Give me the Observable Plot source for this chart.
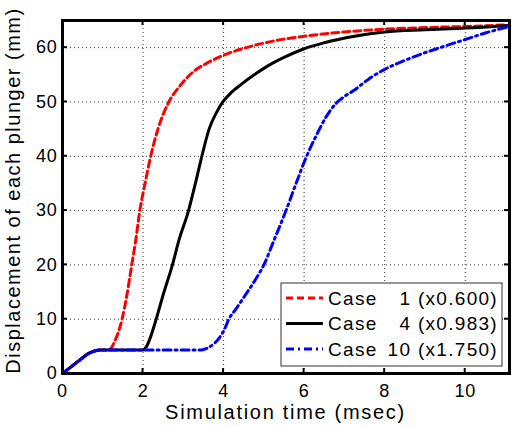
<!DOCTYPE html>
<html><head><meta charset="utf-8">
<script src="https://cdn.jsdelivr.net/npm/d3@7"></script>
<script src="https://cdn.jsdelivr.net/npm/@observablehq/plot@0.6"></script>
<style>
html,body{margin:0;padding:0;background:#fff;}
#chart svg{display:block;font-family:"Liberation Sans",Arial,Helvetica,sans-serif;}
</style></head><body><div id="chart"></div>
<script>
// ---- data ----
const xTicks = [0, 2, 4, 6, 8, 10];
const yTicks = [0, 10, 20, 30, 40, 50, 60];
const xLabel = "Simulation time (msec)";
const yLabel = "Displacement of each plunger (mm)";
const caseNumbers = ["1", "4", "10"];
const scaleFactors = ["x0.600", "x0.983", "x1.750"];

const case1Time = [0, 0.2, 0.45, 0.65, 0.8, 0.95, 1.15, 1.22, 1.3, 1.4, 1.48, 1.6, 1.72, 1.82, 1.92, 2.05, 2.19, 2.37, 2.64, 2.9, 3.27, 3.6, 4.0, 4.76, 5.3, 6.0, 7.0, 8.0, 9.0, 10.0, 11.05];
const case1Disp = [0, 1.15, 2.6, 3.7, 4.15, 4.35, 4.35, 4.8, 6.0, 7.9, 10, 14.5, 20, 24.6, 30, 35, 40, 45, 50, 52.8, 55.7, 57.2, 58.6, 60.4, 61.3, 62.1, 62.9, 63.4, 63.7, 63.9, 64.2];

const case4Time = [0, 0.2, 0.45, 0.65, 0.8, 0.95, 2.0, 2.08, 2.16, 2.31, 2.5, 2.73, 2.89, 3.13, 3.3, 3.46, 3.64, 3.82, 3.98, 4.2, 4.43, 4.76, 5.09, 5.5, 6.0, 6.5, 7.25, 8.0, 9.0, 10.0, 11.05];
const case4Disp = [0, 1.15, 2.6, 3.7, 4.15, 4.35, 4.35, 4.9, 6.2, 9.6, 14.5, 20, 24.5, 30, 35, 40, 45, 48, 50, 51.8, 53.2, 55.0, 56.6, 58.2, 59.8, 60.9, 62.1, 62.9, 63.3, 63.6, 64.1];

const case10Time = [0, 0.2, 0.45, 0.65, 0.8, 0.95, 3.45, 3.6, 3.75, 3.9, 4.02, 4.13, 4.3, 4.5, 4.8, 5.0, 5.25, 5.55, 5.8, 6.05, 6.3, 6.55, 6.8, 7.0, 7.25, 7.6, 8.0, 8.45, 8.9, 9.5, 10.0, 10.5, 11.05];
const case10Disp = [0, 1.15, 2.6, 3.7, 4.15, 4.35, 4.35, 4.7, 5.4, 6.6, 8.1, 10, 11.8, 14, 17.4, 20, 24.5, 30, 35, 39.8, 43.8, 47.3, 49.8, 51.0, 52.2, 54.2, 56, 57.5, 58.8, 60.3, 61.5, 62.7, 63.8];

// ---- styles ----
const seriesStyles = [
  {stroke: "#ff0000", strokeWidth: 3, strokeDasharray: "7,4"},
  {stroke: "#000000", strokeWidth: 3, strokeDasharray: null},
  {stroke: "#0000ff", strokeWidth: 3, strokeDasharray: "8,4,2,4"}
];
const toRows = (t, d) => t.map((v, i) => ({t: v, d: d[i]}));
const seriesData = [toRows(case1Time, case1Disp), toRows(case4Time, case4Disp), toRows(case10Time, case10Disp)];

const FONT = '"Liberation Sans", Arial, Helvetica, sans-serif';

const chart = Plot.plot({
  width: 513, height: 426,
  marginLeft: 62, marginRight: 4, marginTop: 20, marginBottom: 53,
  style: {fontFamily: FONT, fontSize: "18px", background: "#fff", color: "#000"},
  x: {domain: [0, 11.1]},
  y: {domain: [0, 65]},
  marks: [
    Plot.gridX(xTicks, {stroke: "#000", strokeOpacity: 0.8, strokeDasharray: "1,3"}),
    Plot.gridY(yTicks, {stroke: "#000", strokeOpacity: 0.8, strokeDasharray: "1,3"}),
    ...seriesData.map((rows, i) => Plot.line(rows, {x: "t", y: "d", curve: "monotone-x", ...seriesStyles[i]})),
    Plot.axisX(xTicks, {tickSize: 0, tickPadding: 10.5, fontSize: 18, label: null}),
    Plot.axisY(yTicks, {tickSize: 0, tickPadding: 5, fontSize: 18, label: null}),
    Plot.frame({stroke: "#000", strokeWidth: 3})
  ]
});
document.getElementById("chart").appendChild(chart);

const svg = d3.select(chart);
svg.selectAll('g[aria-label="x-axis tick label"] text, g[aria-label="y-axis tick label"] text').style("letter-spacing", "0.8px");
const sx = chart.scale("x"), sy = chart.scale("y");
const [L, R] = sx.range, [B, T] = sy.range;

// inward ticks on four sides
const tk = svg.append("g").attr("stroke", "#000").attr("stroke-width", 2);
xTicks.forEach(v => {
  const px = sx.apply(v);
  tk.append("line").attr("x1", px).attr("x2", px).attr("y1", B).attr("y2", B - 5);
  tk.append("line").attr("x1", px).attr("x2", px).attr("y1", T).attr("y2", T + 5);
});
yTicks.forEach(v => {
  const py = sy.apply(v);
  tk.append("line").attr("x1", L).attr("x2", L + 5).attr("y1", py).attr("y2", py);
  tk.append("line").attr("x1", R).attr("x2", R - 5).attr("y1", py).attr("y2", py);
});

// axis titles
svg.append("text").attr("x", (L + R) / 2).attr("y", 419)
  .attr("text-anchor", "middle").style("font-size", "20px").style("letter-spacing", "1.7px")
  .attr("fill", "#000").text(xLabel);
svg.append("text").attr("transform", `translate(19.5,${(T + B) / 2 - 6}) rotate(-90)`)
  .attr("text-anchor", "middle").style("font-size", "20px").style("letter-spacing", "1.5px")
  .attr("fill", "#000").text(yLabel);

// legend
const lgW = 221, lgH = 83;
const lgX = R - 7 - lgW, lgY = B - 7 - lgH;
const lg = svg.append("g");
lg.append("rect").attr("x", lgX).attr("y", lgY).attr("width", lgW).attr("height", lgH)
  .attr("fill", "#fff").attr("stroke", "#333").attr("stroke-width", 1);
const rowY = [15, 40.5, 66];
caseNumbers.forEach((n, i) => {
  const cy = lgY + rowY[i];
  const st = seriesStyles[i];
  lg.append("line").attr("x1", lgX + 5).attr("x2", lgX + 42).attr("y1", cy).attr("y2", cy)
    .attr("stroke", st.stroke).attr("stroke-width", st.strokeWidth)
    .attr("stroke-dasharray", st.strokeDasharray);
  lg.append("text").attr("x", lgX + 47).attr("y", cy).attr("dy", "0.35em")
    .attr("text-anchor", "start")
    .style("font-size", "19px").style("letter-spacing", "1.3px").attr("fill", "#000").text("Case");
  lg.append("text").attr("x", lgX + lgW - 4).attr("y", cy).attr("dy", "0.35em")
    .attr("text-anchor", "end")
    .style("font-size", "19px").style("letter-spacing", "1.3px").attr("fill", "#000")
    .text(`${n} (${scaleFactors[i]})`);
});
</script></body></html>
